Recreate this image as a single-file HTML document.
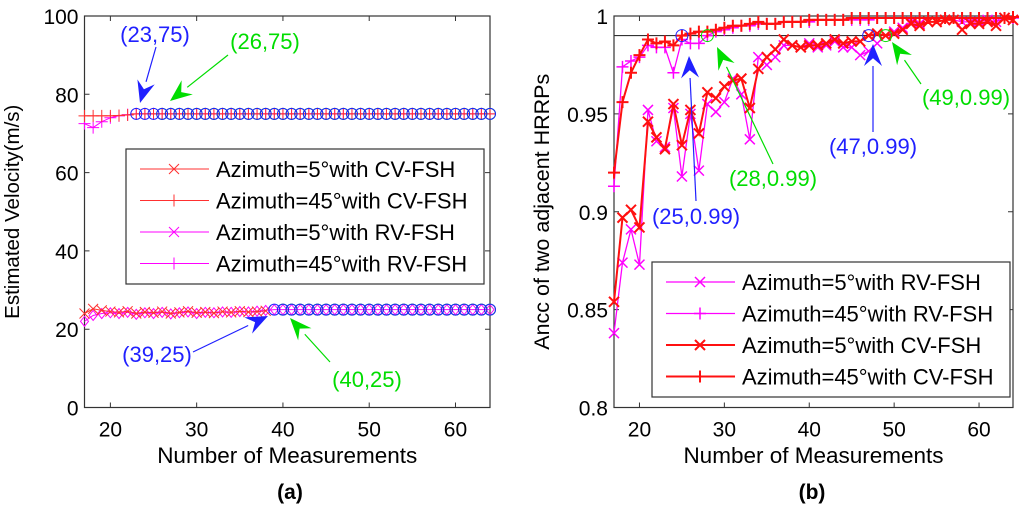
<!DOCTYPE html>
<html><head><meta charset="utf-8"><style>
body{margin:0;background:#fff;}
svg text{font-family:"Liberation Sans",sans-serif;}
</style></head><body>
<svg id="s" width="1024" height="516" xmlns="http://www.w3.org/2000/svg"></svg>
<script>
const xs = []; for (let n = 17; n <= 64; n++) xs.push(n);
// left chart data (velocity)
const leftCv5 = [24.0,25.2,24.8,24.5,24.3,24.6,24.0,24.4,24.2,24.5,24.0,24.3,24.6,24.2,24.4,24.1,24.5,24.3,24.6,24.4,24.5,24.7,25,25,25,25,25,25,25,25,25,25,25,25,25,25,25,25,25,25,25,25,25,25,25,25,25,25];
const leftRv5 = [22.0,23.5,24.0,24.2,24.0,24.3,23.8,24.2,24.0,24.3,23.9,24.2,24.4,24.0,24.3,24.2,24.4,24.3,24.5,24.4,24.6,24.8,25,25,25,25,25,25,25,25,25,25,25,25,25,25,25,25,25,25,25,25,25,25,25,25,25,25];
const leftCv45 = [74.5,74.5,74.5,74.5,74.6,74.7,75,75,75,75,75,75,75,75,75,75,75,75,75,75,75,75,75,75,75,75,75,75,75,75,75,75,75,75,75,75,75,75,75,75,75,75,75,75,75,75,75,75];
const leftRv45 = [72.5,71.5,73.0,74.0,74.5,74.8,75,75,75,75,75,75,75,75,75,75,75,75,75,75,75,75,75,75,75,75,75,75,75,75,75,75,75,75,75,75,75,75,75,75,75,75,75,75,75,75,75,75];
const leftYTicks = [0,20,40,60,80,100];
const xTicks = [20,30,40,50,60];
// right chart data (Ancc)
const rCv45 = [0.920,0.956,0.971,0.980,0.988,0.986,0.987,0.985,0.990,0.991,0.992,0.992,0.993,0.994,0.995,0.995,0.996,0.997,0.996,0.996,0.997,0.997,0.997,0.998,0.998,0.998,0.998,0.998,0.999,0.999,0.999,0.999,0.999,0.999,0.999,0.999,0.999,0.999,0.999,0.999,0.999,0.999,0.999,0.999,0.999,0.999,0.999,0.9995];
const rRv45 = [0.913,0.974,0.977,0.979,0.985,0.984,0.984,0.971,0.988,0.986,0.986,0.990,0.992,0.993,0.994,0.995,0.995,0.996,0.996,0.996,0.997,0.997,0.997,0.997,0.998,0.998,0.998,0.998,0.998,0.998,0.998,0.999,0.999,0.999,0.999,0.999,0.999,0.999,0.999,0.999,0.999,0.999,0.999,0.999,0.999,0.999,0.999,0.999];
const rCv5 = [0.854,0.897,0.901,0.892,0.946,0.938,0.932,0.955,0.934,0.952,0.940,0.961,0.958,0.964,0.967,0.968,0.953,0.973,0.979,0.983,0.988,0.985,0.984,0.985,0.985,0.986,0.988,0.986,0.987,0.987,0.990,0.991,0.990,0.991,0.993,0.996,0.995,0.997,0.997,0.998,0.998,0.993,0.996,0.996,0.997,0.995,0.999,0.998];
const rRv5 = [0.838,0.874,0.891,0.873,0.952,0.936,0.933,0.953,0.918,0.950,0.921,0.955,0.951,0.956,0.968,0.960,0.937,0.979,0.975,0.979,0.985,0.985,0.984,0.986,0.984,0.985,0.987,0.984,0.984,0.980,0.982,0.986,0.990,0.992,0.994,0.997,0.996,0.997,0.997,0.998,0.998,0.997,0.997,0.997,0.998,0.997,0.999,0.998];
const rYTicks = [0.8,0.85,0.9,0.95,1];
const rYLabels = ["0.8","0.85","0.9","0.95","1"];

const svg = document.getElementById('s');
const NS = 'http://www.w3.org/2000/svg';
function mk(tag, attrs, parent){const e=document.createElementNS(NS,tag);for(const k in attrs)e.setAttribute(k,attrs[k]);(parent||svg).appendChild(e);return e;}
function txt(x,y,s,attrs,name){const e=mk('text',Object.assign({x:x,y:y},attrs));e.textContent=s;


return e;}

function marker(g,type,x,y,color,sw){
  const r=5;
  if(type==='x'){mk('path',{d:`M${x-r} ${y-r}L${x+r} ${y+r}M${x-r} ${y+r}L${x+r} ${y-r}`,stroke:color,'stroke-width':sw,fill:'none'},g);}
  else if(type==='+'){mk('path',{d:`M${x-r-1} ${y}L${x+r+1} ${y}M${x} ${y-r-1}L${x} ${y+r+1}`,stroke:color,'stroke-width':sw,fill:'none'},g);}
  else if(type==='d'){mk('path',{d:`M${x} ${y-5}L${x+4} ${y}L${x} ${y+5}L${x-4} ${y}Z`,stroke:color,'stroke-width':1,fill:'none'},g);}
  else if(type==='o'){mk('circle',{cx:x,cy:y,r:5.5,stroke:color,'stroke-width':1,fill:'none'},g);}
}
function series(name,X,Y,vals,color,sw,mtype,msw,from,to){
  const g=mk('g',{});
  
  
  let d='';
  for(let i=0;i<xs.length;i++){if(xs[i]<from||xs[i]>to)continue;d+=(d?'L':'M')+X(xs[i]).toFixed(1)+' '+Y(vals[i]).toFixed(1);}
  if(sw>0)mk('path',{d:d,stroke:color,'stroke-width':sw,fill:'none'},g);
  for(let i=0;i<xs.length;i++){if(xs[i]<from||xs[i]>to)continue;marker(g,mtype,X(xs[i]),Y(vals[i]),color,msw);}
}
function axes(prefix,L,T,R,B,X,Y,yt,ylab,ylabel,ylx,yfs){
  const f=mk('rect',{x:L,y:T,width:R-L,height:B-T,fill:'none',stroke:'#333','stroke-width':1.2});
  
  
  xTicks.forEach(v=>{const x=X(v);mk('path',{d:`M${x} ${B}L${x} ${B-5}M${x} ${T}L${x} ${T+5}`,stroke:'#333'});
    txt(x,B+29,String(v),{'font-size':21,'text-anchor':'middle'},prefix+'-x-tick-label');});
  yt.forEach((v,i)=>{const y=Y(v);mk('path',{d:`M${L} ${y}L${L+5} ${y}M${R} ${y}L${R-5} ${y}`,stroke:'#333'});
    txt(L-6,y+8,ylab[i],{'font-size':21,'text-anchor':'end'},prefix+'-y-tick-label');});
  txt((L+R)/2,463,'Number of Measurements',{'font-size':22.5,'text-anchor':'middle'},prefix+'-x-axis-title');
  txt(0,0,ylabel,{'font-size':yfs,'text-anchor':'middle',transform:`translate(${ylx},${(T+B)/2}) rotate(-90)`},prefix+'-y-axis-title');
}
function arrow(name,x1,y1,x2,y2,color){
  const g=mk('g',{});
  
  
  const a=Math.atan2(y2-y1,x2-x1),L=22,W=9;
  const bx=x2-L*Math.cos(a),by=y2-L*Math.sin(a);
  mk('line',{x1:x1,y1:y1,x2:bx,y2:by,stroke:color,'stroke-width':1.2},g);
  const px=-Math.sin(a),py=Math.cos(a);
  const mx=x2-L*0.65*Math.cos(a),my=y2-L*0.65*Math.sin(a);
  mk('path',{d:`M${x2} ${y2}L${bx+px*W} ${by+py*W}L${mx} ${my}L${bx-px*W} ${by-py*W}Z`,fill:color},g);
}
function legend(name,x,y,w,h,entries){
  const g=mk('g',{});
  
  
  mk('rect',{x:x,y:y,width:w,height:h,fill:'#fff',stroke:'#333','stroke-width':1.2},g);
  entries.forEach((e,i)=>{const yy=y+20+i*31.5;
    mk('line',{x1:x+14,y1:yy,x2:x+83,y2:yy,stroke:e.c,'stroke-width':e.sw},g);
    marker(g,e.m,x+48,yy,e.c,e.msw);
    const t=txt(x+90,yy+8,e.t,{'font-size':22},'legend-entry');g.appendChild(t);});
}

// LEFT
{
  const L=84.5,T=16,R=490,B=407.5;
  const X=v=>L+(v-17)/(64-17)*(R-L), Y=v=>B-(v/100)*(B-T);
  axes('left',L,T,R,B,X,Y,leftYTicks,leftYTicks.map(String),'Estimated Velocity(m/s)',19,20.5);
  series('left-rv45-series',X,Y,leftRv45,'#ff00ff',1,'+',1,17,64);
  series('left-cv45-series',X,Y,leftCv45,'#ff3030',1,'+',1,17,64);
  series('left-rv5-series',X,Y,leftRv5,'#ff00ff',1,'d',1,17,64);
  series('left-cv5-series',X,Y,leftCv5,'#ff3030',1,'x',1,17,38);
  series('left-green-top',X,Y,leftCv45,'#00dd00',0,'o',1,26,64);
  series('left-blue-top',X,Y,leftCv45,'#2020ff',0,'o',1,23,64);
  series('left-green-bottom',X,Y,leftCv5,'#00dd00',0,'o',1,40,64);
  series('left-blue-bottom',X,Y,leftCv5,'#2020ff',0,'o',1,39,64);
  legend('left-legend',126,149,358,135,[
    {t:'Azimuth=5°with CV-FSH',c:'#ff3030',sw:1,m:'x',msw:1},
    {t:'Azimuth=45°with CV-FSH',c:'#ff3030',sw:1,m:'+',msw:1},
    {t:'Azimuth=5°with RV-FSH',c:'#ff00ff',sw:1,m:'x',msw:1},
    {t:'Azimuth=45°with RV-FSH',c:'#ff00ff',sw:1,m:'+',msw:1}]);
  txt(155,42,'(23,75)',{'font-size':22,'text-anchor':'middle',fill:'#2020ff'},'annotation-23-75');
  arrow('arrow-23-75',156,47,140,103,'#2020ff');
  txt(265,49,'(26,75)',{'font-size':22,'text-anchor':'middle',fill:'#00dd00'},'annotation-26-75');
  arrow('arrow-26-75',228,55,170,101,'#00dd00');
  txt(157,362,'(39,25)',{'font-size':22,'text-anchor':'middle',fill:'#2020ff'},'annotation-39-25');
  arrow('arrow-39-25',193,352,268,316,'#2020ff');
  txt(367,387,'(40,25)',{'font-size':22,'text-anchor':'middle',fill:'#00dd00'},'annotation-40-25');
  arrow('arrow-40-25',330,362,290,318,'#00dd00');
  txt(290,499,'(a)',{'font-size':21,'text-anchor':'middle','font-weight':'bold','font-family':'Liberation Serif, serif'},'subfigure-a-caption');
}
// RIGHT
{
  const L=614,T=16,R=1013,B=407.5;
  const X=v=>L+(v-17)/(64-17)*(R-L), Y=v=>B-((v-0.8)/0.2)*(B-T);
  axes('right',L,T,R,B,X,Y,rYTicks,rYLabels,'Ancc of two adjacent HRRPs',549,21.5);
  const ref=mk('line',{x1:L,y1:Y(0.99),x2:R,y2:Y(0.99),stroke:'#333','stroke-width':1.2});
  
  
  series('right-rv5-series',X,Y,rRv5,'#ff00ff',1.3,'x',1.5,17,64);
  series('right-rv45-series',X,Y,rRv45,'#ff00ff',1.3,'+',1.5,17,64);
  series('right-cv5-series',X,Y,rCv5,'#ff1010',2,'x',2,17,64);
  series('right-cv45-series',X,Y,rCv45,'#ff1010',2,'+',2,17,64);
  const circ=[[25,'#2020ff'],[47,'#2020ff'],[28,'#00dd00'],[49,'#00dd00']];
  circ.forEach(c=>{const e=mk('circle',{cx:X(c[0]),cy:Y(0.99),r:6,fill:'none',stroke:c[1],'stroke-width':1});
    
    });
  legend('right-legend',652,262,358,135,[
    {t:'Azimuth=5°with RV-FSH',c:'#ff00ff',sw:1.3,m:'x',msw:1.5},
    {t:'Azimuth=45°with RV-FSH',c:'#ff00ff',sw:1.3,m:'+',msw:1.5},
    {t:'Azimuth=5°with CV-FSH',c:'#ff1010',sw:2,m:'x',msw:2},
    {t:'Azimuth=45°with CV-FSH',c:'#ff1010',sw:2,m:'+',msw:2}]);
  txt(696,224,'(25,0.99)',{'font-size':22,'text-anchor':'middle',fill:'#2020ff'},'annotation-25-099');
  arrow('arrow-25-099',696,201,689,56,'#2020ff');
  txt(773,186,'(28,0.99)',{'font-size':22,'text-anchor':'middle',fill:'#00dd00'},'annotation-28-099');
  arrow('arrow-28-099',773,164,717,47,'#00dd00');
  txt(873,154,'(47,0.99)',{'font-size':22,'text-anchor':'middle',fill:'#2020ff'},'annotation-47-099');
  arrow('arrow-47-099',873,132,873,44,'#2020ff');
  txt(966,105,'(49,0.99)',{'font-size':22,'text-anchor':'middle',fill:'#00dd00'},'annotation-49-099');
  arrow('arrow-49-099',921,84,892,42,'#00dd00');
  txt(812,499,'(b)',{'font-size':21,'text-anchor':'middle','font-weight':'bold','font-family':'Liberation Serif, serif'},'subfigure-b-caption');
}
</script>
</body></html>
